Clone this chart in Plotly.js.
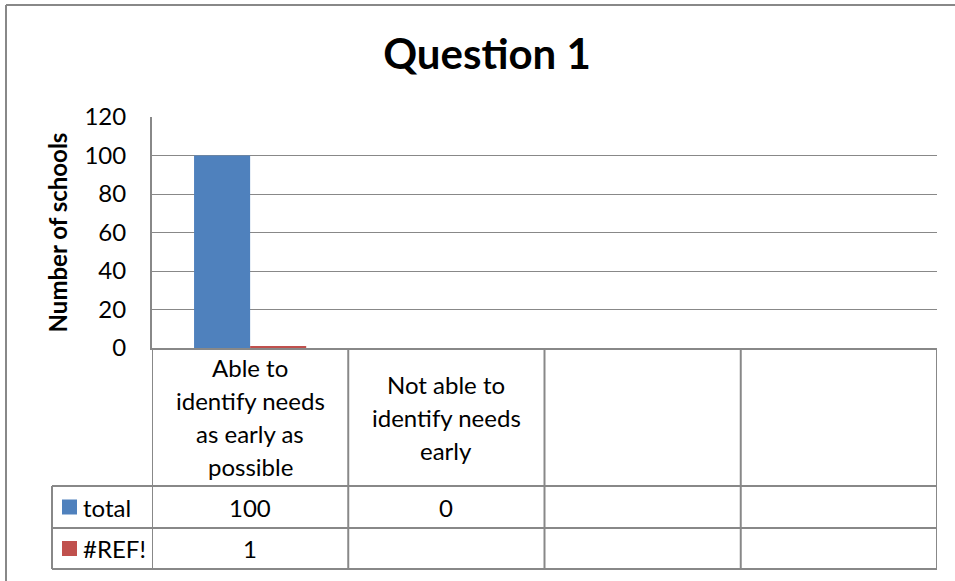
<!DOCTYPE html>
<html>
<head>
<meta charset="utf-8">
<script src="https://cdn.plot.ly/plotly-3.0.1.min.js"></script>
<style>
  html, body { margin: 0; padding: 0; background: #fff; }
  #chart { width: 955px; height: 581px; }
</style>
</head>
<body>
<div id="chart"></div>
<script>
// Chart data
var chartTitle = 'Question 1';
var yTitle = 'Number of schools';
var categories = ['Able to<br>identify needs<br>as early as<br>possible', 'Not able to<br>identify needs<br>early', '', ''];
var seriesNames = ['total', '#REF!'];
var totalValues = [100, 0, null, null];
var refValues = [1, null, null, null];
var yTicks = [0, 20, 40, 60, 80, 100, 120];

var colors = ['#4F81BD', '#C0504D'];
var lineColor = '#888888';
var font = 'Lato, "Open Sans", sans-serif';
var textSize = 24;

// Geometry (pixels)
var W = 955, H = 581;
var L = 152, R = 937, T = 117, B = 348;
var rowTops = [486, 528, 569];
var tableLeft = 52;
var px2x = function (p) { return (p - L) / (R - L); };
var py2y = function (p) { return (B - p) / (B - T); };

var xIdx = categories.map(function (c, i) { return i; });
var seriesValues = [totalValues, refValues];

var traces = seriesValues.map(function (vals, s) {
  return {
    type: 'bar',
    name: seriesNames[s],
    x: xIdx,
    y: vals,
    marker: { color: colors[s] },
    hoverinfo: 'skip'
  };
});

var shapes = [];
var annotations = [];

// Vertical table lines at category boundaries
for (var i = 0; i <= categories.length; i++) {
  shapes.push({
    type: 'line', xref: 'x', yref: 'paper',
    x0: i - 0.5, x1: i - 0.5, y0: 0, y1: py2y(rowTops[2]),
    line: { color: lineColor, width: 2 }
  });
}
// Horizontal rows of the data table
rowTops.forEach(function (p) {
  shapes.push({
    type: 'line', xref: 'paper', yref: 'paper',
    x0: px2x(tableLeft), x1: 1, y0: py2y(p), y1: py2y(p),
    line: { color: lineColor, width: 2 }
  });
});
// Left edge of the legend column
shapes.push({
  type: 'line', xref: 'paper', yref: 'paper',
  x0: px2x(tableLeft), x1: px2x(tableLeft), y0: py2y(rowTops[0]), y1: py2y(rowTops[2]),
  line: { color: lineColor, width: 2 }
});
// Outer chart border (left and top)
shapes.push({
  type: 'line', xref: 'paper', yref: 'paper',
  x0: px2x(6), x1: px2x(6), y0: py2y(5), y1: py2y(H + 5),
  line: { color: lineColor, width: 2 }
});
shapes.push({
  type: 'line', xref: 'paper', yref: 'paper',
  x0: px2x(6), x1: px2x(W + 5), y0: py2y(5), y1: py2y(5),
  line: { color: lineColor, width: 2 }
});

// Category labels, one annotation per line
var catCenter = (B + rowTops[0]) / 2;
var lineGap = 33;
categories.forEach(function (c, i) {
  if (!c) return;
  var lines = c.split('<br>');
  lines.forEach(function (txt, k) {
    var py = catCenter + (k - (lines.length - 1) / 2) * lineGap;
    annotations.push({
      xref: 'x', yref: 'paper', x: i, y: py2y(py),
      text: txt, showarrow: false, xanchor: 'center', yanchor: 'middle',
      font: { family: font, size: textSize, color: '#000' }
    });
  });
});

// Data table rows with legend keys
seriesValues.forEach(function (vals, s) {
  var top = rowTops[s], bot = rowTops[s + 1];
  var mid = (top + bot) / 2;
  shapes.push({
    type: 'rect', xref: 'paper', yref: 'paper',
    x0: px2x(62), x1: px2x(77), y0: py2y(mid - 7.5), y1: py2y(mid + 7.5),
    fillcolor: colors[s], line: { width: 0 }
  });
  annotations.push({
    xref: 'paper', yref: 'paper', x: px2x(81), y: py2y(mid),
    text: seriesNames[s], showarrow: false, xanchor: 'left', yanchor: 'middle',
    font: { family: font, size: textSize, color: '#000' }
  });
  vals.forEach(function (v, i) {
    if (v === null || v === undefined) return;
    annotations.push({
      xref: 'x', yref: 'paper', x: i, y: py2y(mid),
      text: String(v), showarrow: false, xanchor: 'center', yanchor: 'middle',
      font: { family: font, size: textSize, color: '#000' }
    });
  });
});

var layout = {
  width: W, height: H,
  margin: { l: L, r: W - R, t: T, b: H - B, pad: 0 },
  paper_bgcolor: '#fff', plot_bgcolor: '#fff',
  showlegend: false,
  barmode: 'group',
  bargap: 1.5 / 3.5,
  bargroupgap: 0,
  title: {
    text: '<b>' + chartTitle + '</b>',
    font: { family: font, size: 42, color: '#000' },
    x: 487 / W, xref: 'container', xanchor: 'center',
    y: 1 - 54 / H, yref: 'container', yanchor: 'middle'
  },
  xaxis: {
    type: 'linear', range: [-0.5, categories.length - 0.5],
    showticklabels: false, ticks: '', showgrid: false, zeroline: false,
    showline: true, linecolor: lineColor, linewidth: 2, fixedrange: true
  },
  yaxis: {
    range: [0, 120], tickvals: yTicks, ticktext: yTicks.map(String),
    showgrid: true, gridcolor: lineColor, gridwidth: 1,
    zeroline: false, showline: true, linecolor: lineColor, linewidth: 2,
    ticks: '', ticklabelstandoff: 19,
    tickfont: { family: font, size: textSize, color: '#000' },
    title: {
      text: '<b>' + yTitle + '</b>', standoff: 10,
      font: { family: font, size: 24, color: '#000' }
    },
    fixedrange: true
  },
  shapes: shapes,
  annotations: annotations
};

Plotly.newPlot('chart', traces, layout, { displayModeBar: false, staticPlot: true });
</script>
</body>
</html>
